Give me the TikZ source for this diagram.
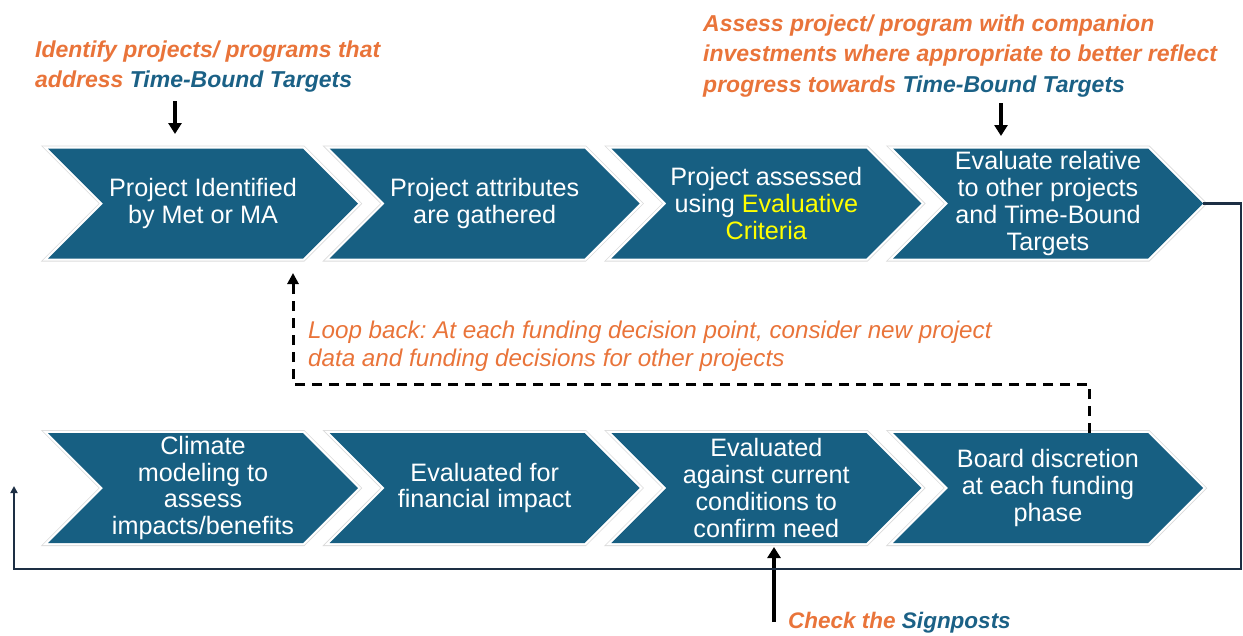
\documentclass[tikz,border=0pt]{standalone}
\usepackage{fontspec}
\setmainfont{Liberation Sans}
\usetikzlibrary{arrows.meta}
\definecolor{chevblue}{HTML}{175F82}
\definecolor{anorange}{HTML}{E9743A}
\definecolor{anblue}{HTML}{1B6186}
\definecolor{loopnavy}{HTML}{1D2F44}
\definecolor{evyellow}{HTML}{FFFF00}
\tikzset{
  chevring/.style={draw=gray!28, line width=6pt, line join=miter},
  chevwhite/.style={draw=white, line width=4.4pt, line join=miter},
  chevfill/.style={fill=chevblue},
  ctext/.style={text=white, align=center, inner sep=0pt, font=\fontsize{25.2}{26.8}\selectfont},
  annot/.style={text=anorange, align=left, inner sep=0pt, anchor=north west, font=\fontsize{23}{30.5}\selectfont\bfseries\itshape},
  looptext/.style={text=anorange, align=left, inner sep=0pt, anchor=north west, font=\fontsize{24.2}{28}\selectfont\itshape},
  feedback/.style={draw=loopnavy, line width=2.2pt, -{Triangle[length=7pt,width=7pt]}},
  downarrow/.style={draw=black, line width=3.2pt, -{Triangle[length=11pt,width=13pt]}},
  looparrow/.style={draw=black, line width=3pt, dash pattern=on 10pt off 7pt, -{Triangle[length=11pt,width=11pt]}},
}
\newcommand\chev[3]{%
  \path[chevring] (#2,#3-55) -- (#2+255,#3-55) -- (#2+310,#3) -- (#2+255,#3+55) -- (#2,#3+55) -- (#2+55,#3) -- cycle;
  \path[chevwhite] (#2,#3-55) -- (#2+255,#3-55) -- (#2+310,#3) -- (#2+255,#3+55) -- (#2,#3+55) -- (#2+55,#3) -- cycle;
  \path[chevfill] (#2,#3-55) -- (#2+255,#3-55) -- (#2+310,#3) -- (#2+255,#3+55) -- (#2,#3+55) -- (#2+55,#3) -- cycle;
  \coordinate (#1-tip) at (#2+310,#3);
  \coordinate (#1-c) at (#2+155,#3);
}
\frenchspacing
\begin{document}
\begin{tikzpicture}[x=1pt,y=-1pt]
\useasboundingbox (0,0) rectangle (1243,635);
% chevrons
\chev{c1}{48}{203.5}
\chev{c2}{329.7}{203.5}
\chev{c3}{611.3}{203.5}
\chev{c4}{893}{203.5}
\chev{c5}{48}{488}
\chev{c6}{329.7}{488}
\chev{c7}{611.3}{488}
\chev{c8}{893}{488}
% chevron texts
\node[ctext] (t1) at (c1-c) {Project Identified\\by Met or MA};
\node[ctext] (t2) at (c2-c) {Project attributes\\are gathered};
\node[ctext] (t3) at (c3-c) {Project assessed\\using \textcolor{evyellow}{Evaluative}\\\textcolor{evyellow}{Criteria}};
\node[ctext] (t4) at (c4-c) {Evaluate relative\\to other projects\\and Time-Bound\\Targets};
\node[ctext] (t5) at (c5-c) {Climate\\modeling to\\assess\\impacts/benefits};
\node[ctext] (t6) at (c6-c) {Evaluated for\\financial impact};
\node[ctext] (t7) at (c7-c) {Evaluated\\against current\\conditions to\\confirm need};
\node[ctext] (t8) at (c8-c) {Board discretion\\at each funding\\phase};
% annotations
\node[annot] (a1) at (35,40.5) {Identify projects/ programs that\\address \textcolor{anblue}{Time-Bound Targets}};
\node[annot] (a2) at (703,14.5) {Assess project/ program with companion\\investments where appropriate to better reflect\\progress towards \textcolor{anblue}{Time-Bound Targets}};
\node[looptext] (a3) at (308,320.5) {Loop back: At each funding decision point, consider new project\\data and funding decisions for other projects};
\node[anchor=base west, inner sep=0pt, text=anorange, font=\fontsize{22.5}{28}\selectfont\bfseries\itshape] (a4) at (788,628) {Check the \textcolor{anblue}{Signposts}};
% arrow coordinates
\coordinate (d1s) at (175,101);
\coordinate (d1e) at (175,134);
\coordinate (d2s) at (1001,103);
\coordinate (d2e) at (1001,136);
\coordinate (sgs) at (774,622);
\coordinate (sge) at (774,547);
\coordinate (fbTR) at (1241,203.5);
\coordinate (fbBR) at (1241,569);
\coordinate (fbBL) at (14,569);
\coordinate (fbE) at (14,486);
\coordinate (lpS) at (1089,433);
\coordinate (lpA) at (1089,384);
\coordinate (lpB) at (293,384);
\coordinate (lpE) at (293,273);
% connectors
\draw[downarrow] (d1s) -- (d1e);
\draw[downarrow] (d2s) -- (d2e);
\draw[downarrow] (sgs) -- (sge);
\draw[feedback] (c4-tip) -- (fbTR) -- (fbBR) -- (fbBL) -- (fbE);
\draw[looparrow] (lpS) -- (lpA) -- (lpB) -- (lpE);
\end{tikzpicture}
\end{document}
